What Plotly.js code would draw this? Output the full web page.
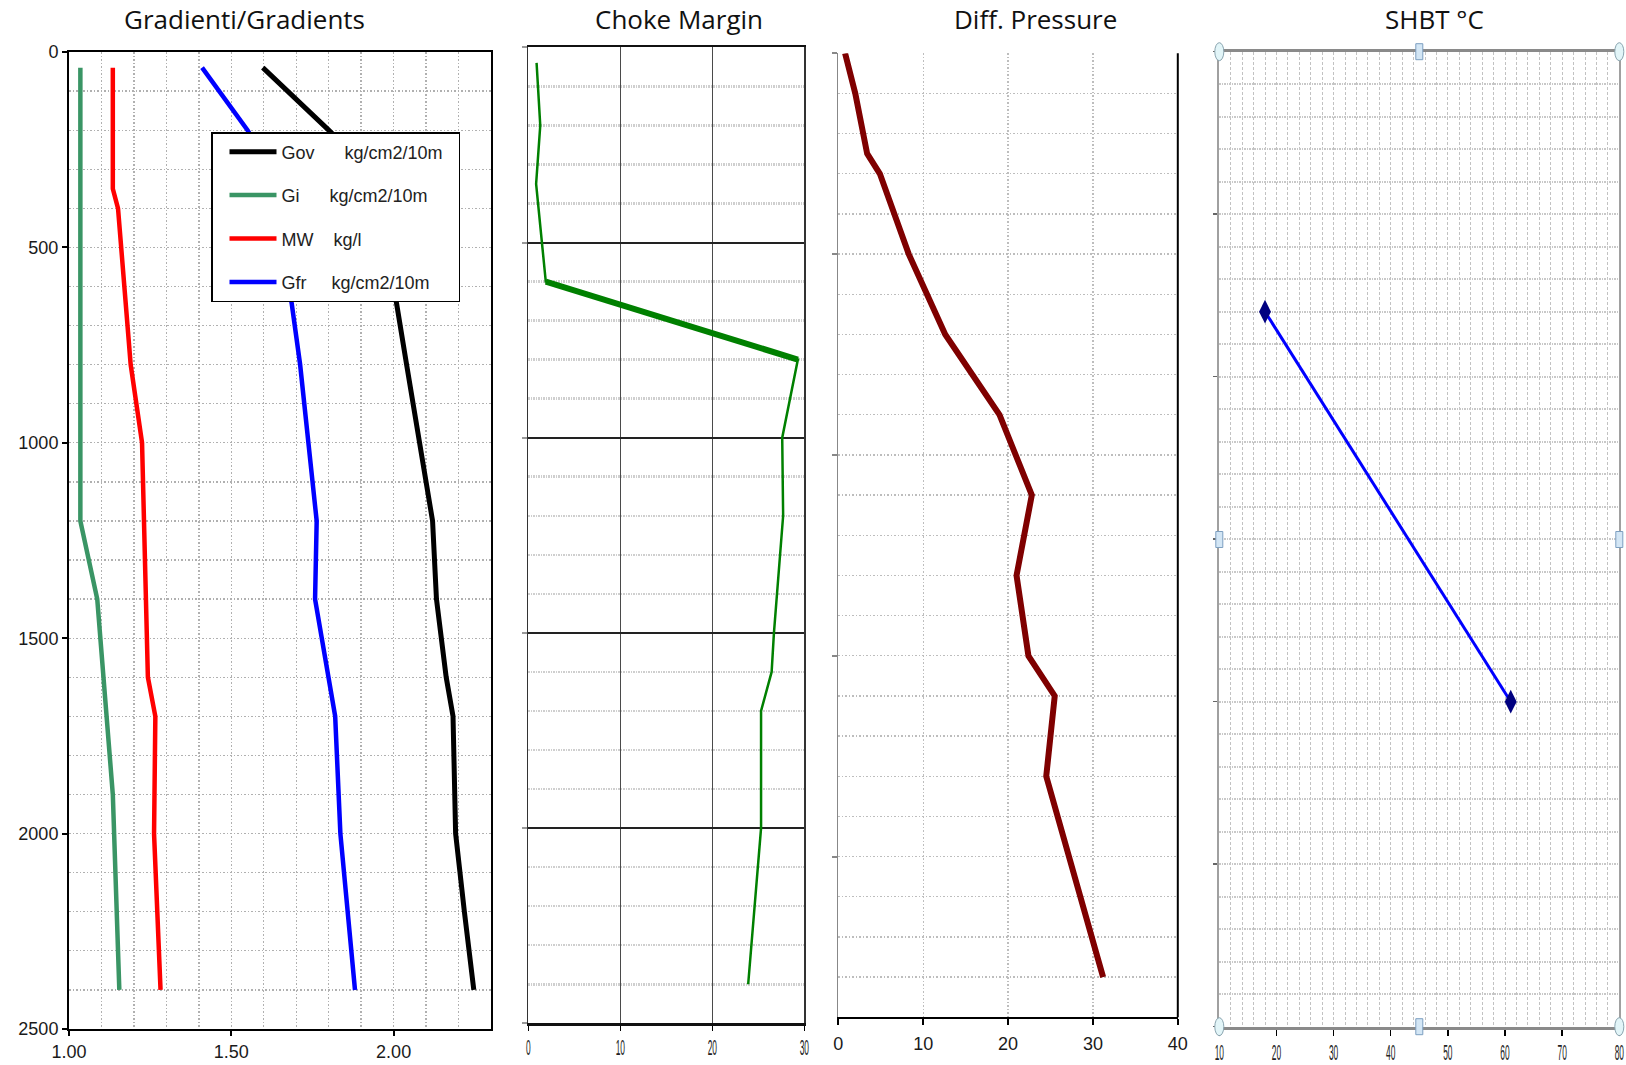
<!DOCTYPE html>
<html>
<head>
<meta charset="utf-8">
<script src="https://cdn.plot.ly/plotly-3.0.1.min.js"></script>
<style>
  html, body { margin: 0; padding: 0; background: #ffffff; }
  #chart { width: 1626px; height: 1065px; }
</style>
</head>
<body>
<div id="chart"></div>
<script>
// ---------------- DATA ----------------
// Panel 1: Gradienti / Gradients (depth in m, values)
const govDepth = [40, 200, 300, 643, 800, 1150, 1200, 1400, 1600, 1700, 2000, 2200, 2400];
const govVal   = [1.597, 1.80, 1.92, 2.009, 2.04, 2.111, 2.12, 2.132, 2.162, 2.183, 2.191, 2.218, 2.247];

const giDepth  = [40, 1200, 1400, 1900, 2400];
const giVal    = [1.035, 1.035, 1.087, 1.135, 1.155];

const mwDepth  = [40, 350, 400, 800, 1000, 1600, 1700, 2000, 2400];
const mwVal    = [1.135, 1.135, 1.151, 1.19, 1.225, 1.243, 1.266, 1.262, 1.282];

const gfrDepth = [40, 200, 300, 643, 800, 1200, 1400, 1600, 1700, 2000, 2400];
const gfrVal   = [1.41, 1.55, 1.62, 1.686, 1.712, 1.763, 1.758, 1.80, 1.82, 1.836, 1.881];

const legendNames = [
  'Gov\u00A0\u00A0\u00A0\u00A0\u00A0\u00A0kg/cm2/10m\u00A0\u00A0',
  'Gi\u00A0\u00A0\u00A0\u00A0\u00A0\u00A0kg/cm2/10m',
  'MW\u00A0\u00A0\u00A0\u00A0kg/l',
  'Gfr\u00A0\u00A0\u00A0\u00A0\u00A0kg/cm2/10m'
];

// Panel 2: Choke Margin
const chokeDepth = [40, 200, 350, 600, 800, 1000, 1200, 1500, 1600, 1700, 2000, 2400];
const chokeVal   = [0.9, 1.3, 0.85, 1.9, 29.3, 27.6, 27.7, 26.7, 26.45, 25.3, 25.3, 23.9];
const chokeThickFrom = 600, chokeThickTo = 800;

// Panel 3: Diff. Pressure
const diffDepth = [0, 100, 250, 300, 500, 700, 900, 1100, 1300, 1500, 1600, 1800, 2300];
const diffVal   = [0.8, 2.0, 3.4, 4.9, 8.3, 12.6, 19.0, 22.8, 21.0, 22.4, 25.5, 24.5, 31.2];

// Panel 4: SHBT °C
const shbtDepth = [800, 2000];
const shbtVal   = [18, 61];

const titles = ['Gradienti/Gradients', 'Choke Margin', 'Diff. Pressure', 'SHBT \u00B0C'];
const p1XTicks = [1.0, 1.5, 2.0];

// ---------------- LAYOUT HELPERS ----------------
const W = 1626, H = 1065;
const px = (a, b) => [a / W, b / W];
const py = (top, bottom) => [1 - bottom / H, 1 - top / H];

const P1 = {l: 69, r: 491, t: 52, b: 1029};
const P2 = {l: 528.3, r: 804.3, t: 47.3, b: 1023.3};
const P3 = {l: 838.3, r: 1177.8, t: 53.3, b: 1017.3};
const P4 = {l: 1219.3, r: 1619.3, t: 51.7, b: 1026.7};

const armo = 'Liberation Sans, Arial, sans-serif';
const titleFont = 'Open Sans, Noto Sans, sans-serif';

// ---------------- TRACES ----------------
const ci = chokeDepth.indexOf(chokeThickFrom), cj = chokeDepth.indexOf(chokeThickTo);
const traces = [
  {x: govVal, y: govDepth, name: legendNames[0], legendgroup: 'g1', mode: 'lines',
   line: {color: '#000000', width: 5}, xaxis: 'x', yaxis: 'y'},
  {x: giVal, y: giDepth, name: legendNames[1], legendgroup: 'g2', mode: 'lines',
   line: {color: '#3a9565', width: 4.5}, xaxis: 'x', yaxis: 'y'},
  {x: mwVal, y: mwDepth, name: legendNames[2], legendgroup: 'g3', mode: 'lines',
   line: {color: '#ff0000', width: 4.5}, xaxis: 'x', yaxis: 'y'},
  {x: gfrVal, y: gfrDepth, name: legendNames[3], legendgroup: 'g4', mode: 'lines',
   line: {color: '#0000ff', width: 4.5}, xaxis: 'x', yaxis: 'y'},

  {x: chokeVal, y: chokeDepth, mode: 'lines', showlegend: false,
   line: {color: '#008000', width: 2.5}, xaxis: 'x2', yaxis: 'y2'},
  {x: chokeVal.slice(ci, cj + 1), y: chokeDepth.slice(ci, cj + 1), mode: 'lines', showlegend: false,
   line: {color: '#008000', width: 6}, xaxis: 'x2', yaxis: 'y2'},

  {x: diffVal, y: diffDepth, mode: 'lines', showlegend: false,
   line: {color: '#7f0000', width: 6}, xaxis: 'x3', yaxis: 'y3'},

  {x: shbtVal, y: shbtDepth, mode: 'lines+markers', showlegend: false,
   line: {color: '#0000ff', width: 3},
   marker: {symbol: 'diamond-tall', size: 17, color: '#000080'},
   xaxis: 'x4', yaxis: 'y4'}
];

// ---------------- AXES ----------------
const grid = (c, w, d) => ({showgrid: true, gridcolor: c, griddash: d, gridwidth: w});
const G1 = grid('#b0b0b0', 1.3, '1.5px,2px');
const G2 = grid('#cfcfcf', 2.5, '1.5px,1px');
const G3 = grid('#bdbdbd', 1.3, '1.5px,2px');
const G4v = grid('#c2c2c2', 1, '3px,2px');
const G4h = grid('#c8c8c8', 2, '1.5px,1px');

const layout = {
  width: W, height: H,
  margin: {l: 0, r: 0, t: 0, b: 0, pad: 0},
  paper_bgcolor: '#ffffff', plot_bgcolor: '#ffffff',
  showlegend: true,
  legend: {
    x: 211 / W, y: 1 - 132 / H, xanchor: 'left', yanchor: 'top',
    bgcolor: '#ffffff', bordercolor: '#000000', borderwidth: 1.5,
    font: {family: armo, size: 18, color: '#222222'},
    traceorder: 'grouped', tracegroupgap: 17, itemwidth: 47, indentation: 12
  },
  // Panel 1
  xaxis: Object.assign({
    domain: px(P1.l, P1.r), anchor: 'y', range: [1, 2.3],
    tickvals: p1XTicks, tickformat: '.2f',
    ticks: 'outside', ticklen: 5, tickwidth: 2, tickcolor: '#000',
    showline: true, mirror: true, linecolor: '#000', linewidth: 2, zeroline: false,
    tickfont: {family: armo, size: 18, color: '#1a1a1a'},
    minor: Object.assign({dtick: 0.1, tick0: 1}, G1)
  }, G1),
  yaxis: Object.assign({
    domain: py(P1.t, P1.b), anchor: 'x', range: [2500, 0], dtick: 500, tick0: 0,
    ticks: 'outside', ticklen: 5, tickwidth: 2, tickcolor: '#000',
    showline: true, mirror: true, linecolor: '#000', linewidth: 2, zeroline: false,
    tickfont: {family: armo, size: 18, color: '#1a1a1a'},
    minor: Object.assign({dtick: 100, tick0: 0}, G1)
  }, G1),
  // Panel 2
  xaxis2: {
    domain: px(P2.l, P2.r), anchor: 'y2', range: [0, 30], dtick: 10, tick0: 0,
    showgrid: true, gridcolor: '#4a4a4a', gridwidth: 1.2,
    ticks: 'outside', ticklen: 5, tickwidth: 1.5, tickcolor: '#000',
    showline: true, mirror: true, linecolor: '#111', linewidth: 2.5, zeroline: false,
    tickfont: {family: armo, size: 20, color: '#222'}, ticklabelstandoff: 0,
    ticklabeloverflow: 'allow'
  },
  yaxis2: {
    domain: py(P2.t, P2.b), anchor: 'x2', range: [2500, 0], dtick: 500, tick0: 0,
    showgrid: true, gridcolor: '#222222', gridwidth: 2,
    showticklabels: false, ticks: 'outside', ticklen: 5, tickwidth: 2, tickcolor: '#999',
    showline: true, mirror: true, linecolor: '#333', linewidth: 1.2, zeroline: false,
    minor: Object.assign({dtick: 100, tick0: 0}, G2)
  },
  // Panel 3
  xaxis3: Object.assign({
    domain: px(P3.l, P3.r), anchor: 'y3', range: [0, 40], dtick: 10, tick0: 0,
    ticks: 'outside', ticklen: 6, tickwidth: 2, tickcolor: '#000',
    showline: true, mirror: false, linecolor: '#000', linewidth: 2, zeroline: false,
    tickfont: {family: armo, size: 18, color: '#1a1a1a'}, ticklabelstandoff: 3,
    ticklabeloverflow: 'allow'
  }, G3),
  yaxis3: Object.assign({
    domain: py(P3.t, P3.b), anchor: 'x3', range: [2400, 0], dtick: 500, tick0: 0,
    showticklabels: false, ticks: 'outside', ticklen: 5, tickwidth: 2, tickcolor: '#888',
    showline: true, mirror: false, linecolor: '#888', linewidth: 1.5, zeroline: false,
    minor: Object.assign({dtick: 100, tick0: 0}, G3)
  }, G3),
  // Panel 4
  xaxis4: Object.assign({
    domain: px(P4.l, P4.r), anchor: 'y4', range: [10, 80], dtick: 10, tick0: 10,
    ticks: 'outside', ticklen: 6, tickwidth: 1.5, tickcolor: '#000',
    showline: true, mirror: true, linecolor: '#8a8a8a', linewidth: 3, zeroline: false,
    tickfont: {family: armo, size: 20, color: '#222'}, ticklabelstandoff: 0,
    ticklabeloverflow: 'allow',
    minor: Object.assign({dtick: 2, tick0: 10}, G4v)
  }, G4v),
  yaxis4: Object.assign({
    domain: py(P4.t, P4.b), anchor: 'x4', range: [3000, 0], dtick: 500, tick0: 0,
    showticklabels: false, ticks: 'outside', ticklen: 4, tickwidth: 1.5, tickcolor: '#666',
    showline: true, mirror: true, linecolor: '#a0a0a0', linewidth: 2, zeroline: false,
    minor: Object.assign({dtick: 100, tick0: 0}, G4h)
  }, G4h),
  annotations: [],
  shapes: []
};

// Panel titles
const titleX = [244, 679, 1035, 1434.5];
titles.forEach((t, i) => {
  layout.annotations.push({
    text: t, xref: 'paper', yref: 'paper', x: titleX[i] / W, y: 1 - 19 / H,
    xanchor: 'center', yanchor: 'middle', showarrow: false,
    font: {family: titleFont, size: 26, color: '#111'}
  });
});

// Panel 3 right border
layout.shapes.push({type: 'line', xref: 'x3 domain', yref: 'y3 domain', x0: 1, x1: 1, y0: 0, y1: 1,
  line: {color: '#000', width: 2}});

// Panel 4 selection handles (corners: circles, edge midpoints: squares)
const hx = [P4.l, (P4.l + P4.r) / 2, P4.r];
const hy = [P4.t, (P4.t + P4.b) / 2 + 0.3, P4.b];
[[0,0],[2,0],[0,2],[2,2]].forEach(([i, j]) => {
  layout.shapes.push({type: 'circle', xref: 'paper', yref: 'paper', xsizemode: 'pixel', ysizemode: 'pixel',
    xanchor: hx[i] / W, yanchor: 1 - hy[j] / H, x0: -4.5, x1: 4.5, y0: -9, y1: 9,
    fillcolor: '#e2f5f8', line: {color: '#8aa5b0', width: 1}});
});
[[1,0],[1,2],[0,1],[2,1]].forEach(([i, j]) => {
  layout.shapes.push({type: 'rect', xref: 'paper', yref: 'paper', xsizemode: 'pixel', ysizemode: 'pixel',
    xanchor: hx[i] / W, yanchor: 1 - hy[j] / H, x0: -3.5, x1: 3.5, y0: -8, y1: 8,
    fillcolor: '#d3e6f5', line: {color: '#7d9fc0', width: 1}});
});

function condenseTicks(gd) {
  // condensed tick labels for the Choke Margin and SHBT axes
  gd.querySelectorAll('g.x2tick text, g.x4tick text').forEach(t => {
    const bb = t.getBBox();
    const cx = bb.x + bb.width / 2, cy = bb.y + bb.height / 2;
    const prev = t.getAttribute('transform') || '';
    t.setAttribute('transform', prev + ' translate(' + cx + ',' + cy + ') scale(0.42,1.1) translate(' + (-cx) + ',' + (-cy) + ')');
  });
}

Plotly.newPlot('chart', traces, layout, {staticPlot: true, displayModeBar: false}).then(condenseTicks);
</script>
</body>
</html>
